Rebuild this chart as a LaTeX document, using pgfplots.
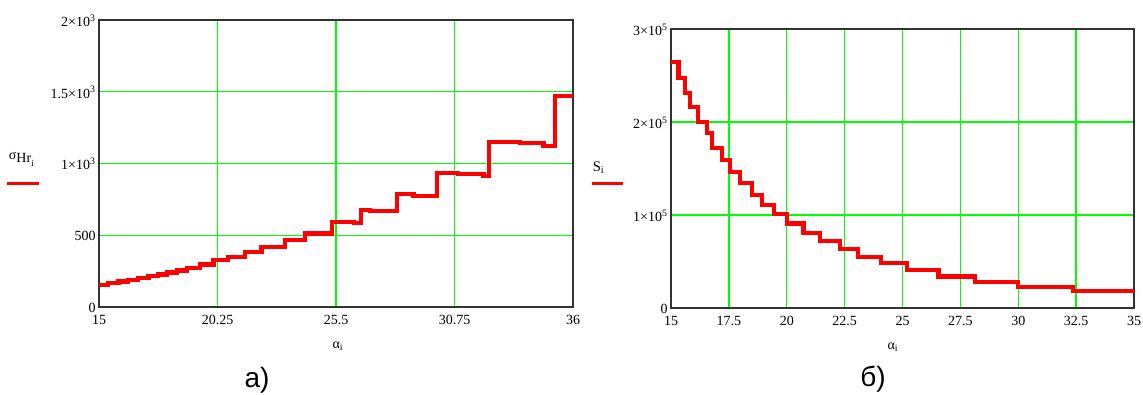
\documentclass[border=0pt]{standalone}
\usepackage{fontspec}
\setmainfont{Liberation Serif}
\newfontfamily\capfont{Liberation Sans}
\usepackage{pgfplots}
\pgfplotsset{compat=1.18}
\definecolor{gridgreen}{RGB}{0,255,0}
\definecolor{curvered}{RGB}{255,0,0}
\pgfplotstableread{
x y
15 153
15.41 165
15.86 177
16.30 188
16.74 200
17.19 216
17.63 227
18.0 241
18.44 255
18.89 274
19.47 297
20.07 325
20.73 350
21.47 385
22.2 420
23.24 467
24.13 513
25.31 594
26.3 585
26.6 676
27.0 669
28.19 785
28.93 776
29.96 932
30.92 925
32.03 915
32.29 1148
33.65 1141
34.69 1124
35.2 1470
36 1470
}\sigmadata
\pgfplotstableread{
x y
15.0 264800
15.32 247000
15.6 231000
15.82 216500
16.18 200300
16.54 187800
16.76 171700
17.19 159100
17.55 146600
17.98 134100
18.49 121500
18.92 110800
19.45 100700
20.0 91000
20.72 81000
21.44 72000
22.3 63100
23.09 55200
24.07 48000
25.18 40900
26.55 34000
28.13 28300
30.0 22900
32.35 18600
35.0 18600
}\sdata
\pgfplotsset{
  mcad/.style={
    scale only axis, anchor=south west,
    grid=major, major grid style={gridgreen, line width=1pt},
    major tick length=0pt,
    axis line style={black!80, line width=1.1pt},
    tick label style={font=\fontsize{10.5}{12}\selectfont},
    scaled ticks=false,
    xticklabel style={text height=7pt, text depth=0pt, yshift=-2.5pt},
    yticklabel style={xshift=1pt, yshift=-0.5pt},
  }
}
\begin{document}
\begin{tikzpicture}
\useasboundingbox (0,0) rectangle (857.25pt,295.5pt);
\begin{axis}[mcad,
  at={(74.25pt,65.25pt)}, width=355.5pt, height=215.25pt,
  xmin=15, xmax=36, ymin=0, ymax=2000,
  xtick={15,20.25,25.5,30.75,36}, xticklabels={15,20.25,25.5,30.75,36},
  ytick={0,500,1000,1500,2000},
  yticklabels={0,500,1×10\textsuperscript{3},1.5×10\textsuperscript{3},2×10\textsuperscript{3}},
]
\addplot[const plot, curvered, line width=3.2pt] table[x=x,y=y] {\sigmadata};
\end{axis}
\begin{axis}[mcad,
  at={(503.25pt,64.5pt)}, width=347.25pt, height=209.25pt,
  xmin=15, xmax=35, ymin=0, ymax=300000,
  xtick={15,17.5,20,22.5,25,27.5,30,32.5,35},
  xticklabels={15,17.5,20,22.5,25,27.5,30,32.5,35},
  ytick={0,100000,200000,300000},
  yticklabels={0,1×10\textsuperscript{5},2×10\textsuperscript{5},3×10\textsuperscript{5}},
]
\addplot[const plot, curvered, line width=3.2pt] table[x=x,y=y] {\sdata};
\end{axis}
% axis labels
\node[font=\fontsize{10.5}{12}\selectfont] at (253.5pt,36pt) {α\textsubscript{i}};
\node[font=\fontsize{10.5}{12}\selectfont] at (669.75pt,35.25pt) {α\textsubscript{i}};
\node[font=\fontsize{10.5}{12}\selectfont, anchor=base west, inner sep=0pt] at (6.5pt,176pt)
  {σ\raisebox{-0.55ex}{Hr}\raisebox{-1.1ex}{\fontsize{7}{8}\selectfont i}};
\draw[curvered, line width=2.5pt] (5.25pt,157.9pt) -- (29.25pt,157.9pt);
\node[font=\fontsize{11}{12}\selectfont] at (449pt,170pt) {S\textsubscript{i}};
\draw[curvered, line width=2.5pt] (444pt,157.9pt) -- (467.25pt,157.9pt);
% captions
\node[font=\capfont\fontsize{21}{24}\selectfont] at (192.75pt,10.5pt) {а)};
\node[font=\capfont\fontsize{21}{24}\selectfont] at (654.75pt,11.25pt) {б)};
\end{tikzpicture}
\end{document}
